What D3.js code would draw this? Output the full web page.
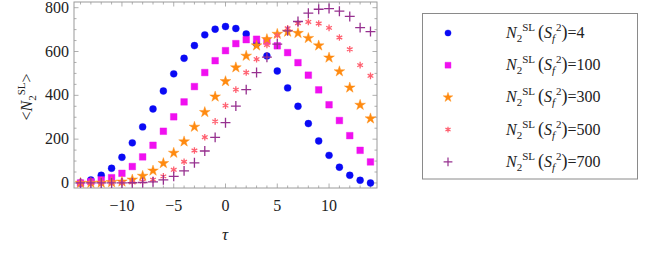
<!DOCTYPE html>
<html>
<head>
<meta charset="utf-8">
<script src="https://cdn.jsdelivr.net/npm/d3@7"></script>
</head>
<body style="margin:0">
<script>
// tau runs -14..14
const tau = d3.range(-14, 15);
const sf2Values = [4, 100, 300, 500, 700];

// values
const n4   = [0, 14, 35, 67, 117, 183, 256, 338, 420, 498, 569, 627, 676, 702, 714, 705, 680, 636, 580, 511, 434, 350, 271, 192, 126, 72, 35, 12, 0];
const n100 = [0, 6, 14, 24, 44, 75, 119, 172, 236, 302, 370, 440, 504, 558, 604, 636, 654, 656, 647, 626, 595, 549, 492, 425, 357, 285, 216, 149, 96];
const n300 = [0, 0, 1, 3, 6, 15, 32, 56, 90, 137, 189, 256, 323, 394, 464, 527, 580, 627, 656, 680, 690, 684, 661, 627, 572, 509, 435, 356, 294];
const n500 = [0, 0, 0, 0, 1, 3, 7, 15, 30, 60, 97, 148, 209, 281, 353, 426, 504, 565, 630, 673, 706, 729, 735, 728, 708, 664, 610, 538, 489];
const n700 = [0, 0, 0, 0, 0, 1, 2, 5, 14, 30, 55, 92, 146, 208, 275, 351, 426, 504, 574, 634, 694, 737, 775, 793, 796, 784, 760, 709, 691];

const xTicks = [-10, -5, 0, 5, 10];
const yTicks = [0, 200, 400, 600, 800];

const series = [
  {vals: n4,   color: '#0a0af5', sym: d3.symbolCircle,   size: 38, fill: true},
  {vals: n100, color: '#f010f0', sym: d3.symbolSquare,   size: 44, fill: true},
  {vals: n300, color: '#ff8a10', sym: d3.symbolStar,     size: 36, fill: true},
  {vals: n500, color: '#ff6070', sym: d3.symbolAsterisk, size: 30, fill: false},
  {vals: n700, color: '#96308f', sym: d3.symbolPlus,     size: 34, fill: false}
];

const W = 650, H = 254;
const frame = {left: 74, right: 377, top: 2, bottom: 188};
const serif = 'Times New Roman';

const svg = d3.select('body').append('svg')
    .attr('width', W).attr('height', H)
    .attr('style', 'font-family: "Times New Roman", "Liberation Serif", serif');

const x = d3.scaleLinear().domain([-14.63, 14.63]).range([frame.left, frame.right]);
const y = d3.scaleLinear().domain([-23, 826]).range([frame.bottom, frame.top]);

const frameColor = '#9a9a9a';

// frame with inward ticks on all sides
svg.append('rect')
    .attr('x', frame.left).attr('y', frame.top)
    .attr('width', frame.right - frame.left).attr('height', frame.bottom - frame.top)
    .attr('fill', 'none').attr('stroke', frameColor).attr('stroke-width', 1);

const minorX = d3.range(-14, 15);
const minorY = d3.range(0, 801, 50);

function tickLines(g, vals, major, horiz) {
  vals.forEach(v => {
    const len = major.includes(v) ? 4.5 : 2.5;
    if (horiz) {
      const px = x(v);
      g.append('line').attr('x1', px).attr('x2', px).attr('y1', frame.bottom).attr('y2', frame.bottom - len);
      g.append('line').attr('x1', px).attr('x2', px).attr('y1', frame.top).attr('y2', frame.top + len);
    } else {
      const py = y(v);
      g.append('line').attr('y1', py).attr('y2', py).attr('x1', frame.left).attr('x2', frame.left + len);
      g.append('line').attr('y1', py).attr('y2', py).attr('x1', frame.right).attr('x2', frame.right - len);
    }
  });
}
const ticksG = svg.append('g').attr('stroke', frameColor).attr('stroke-width', 0.8);
tickLines(ticksG, minorX, xTicks, true);
tickLines(ticksG, minorY, yTicks, false);

// tick labels
xTicks.forEach(d => {
  svg.append('text').attr('x', x(d)).attr('y', 211)
      .attr('font-family', serif).attr('font-size', 16)
      .attr('text-anchor', 'middle').attr('fill', '#222')
      .text(d < 0 ? '\u2212' + Math.abs(d) : String(d));
});
yTicks.forEach(d => {
  svg.append('text').attr('x', 69).attr('y', y(d) + 5)
      .attr('font-family', serif).attr('font-size', 16)
      .attr('text-anchor', 'end').attr('fill', '#222')
      .text(String(d));
});

// axis labels
svg.append('text').attr('x', 225).attr('y', 240).attr('font-family', serif)
    .attr('text-anchor', 'middle').attr('font-size', 17).attr('font-style', 'italic').attr('fill', '#222')
    .text('\u03c4');

const yl = svg.append('text')
    .attr('transform', 'translate(32,97) rotate(-90)').attr('font-family', serif)
    .attr('text-anchor', 'middle').attr('font-size', 16).attr('fill', '#222');
yl.append('tspan').text('<');
yl.append('tspan').attr('font-style', 'italic').text('N');
yl.append('tspan').attr('font-size', 11).attr('dy', 4).text('2');
yl.append('tspan').attr('font-size', 11).attr('dy', -11).text('SL');
yl.append('tspan').attr('dy', 7).text('>');

// points
const symGen = d3.symbol();
series.forEach(s => {
  svg.append('g').selectAll('path').data(tau).enter().append('path')
      .attr('transform', (d, i) => `translate(${x(d)},${y(s.vals[i])})`)
      .attr('d', symGen.type(s.sym).size(s.size)())
      .attr('fill', s.fill ? s.color : 'none')
      .attr('stroke', s.color)
      .attr('stroke-width', s.fill ? 0.4 : 1.3);
});

// legend
const lg = svg.append('g');
lg.append('rect').attr('x', 422.5).attr('y', 13.5).attr('width', 215).attr('height', 165.5)
    .attr('fill', '#fff').attr('stroke', '#8a8a8a').attr('stroke-width', 1);

series.forEach((s, i) => {
  const cy = 33 + i * 32.2;
  lg.append('path')
      .attr('transform', `translate(448,${cy})`)
      .attr('d', d3.symbol().type(s.sym).size(s.size * 0.8)())
      .attr('fill', s.fill ? s.color : 'none')
      .attr('stroke', s.color)
      .attr('stroke-width', s.fill ? 0.4 : 1.2);

  const t = lg.append('text').attr('x', 506).attr('y', cy + 5).attr('font-size', 16)
      .attr('font-family', serif).attr('fill', '#222');
  t.append('tspan').attr('font-style', 'italic').text('N');
  t.append('tspan').attr('font-size', 11).attr('dy', 4).text('2');
  t.append('tspan').attr('font-size', 11).attr('dy', -11).text('SL');
  t.append('tspan').attr('dy', 7).attr('dx', 3).attr('font-size', 18).text('(');
  t.append('tspan').attr('font-style', 'italic').attr('font-size', 16).text('S');
  t.append('tspan').attr('font-style', 'italic').attr('font-size', 11).attr('dy', 4).text('f');
  t.append('tspan').attr('font-size', 11).attr('dy', -11).attr('dx', 1).text('2');
  t.append('tspan').attr('dy', 7).attr('font-size', 18).text(')');
  t.append('tspan').attr('font-size', 16).text('=' + sf2Values[i]);
});
</script>
</body>
</html>
